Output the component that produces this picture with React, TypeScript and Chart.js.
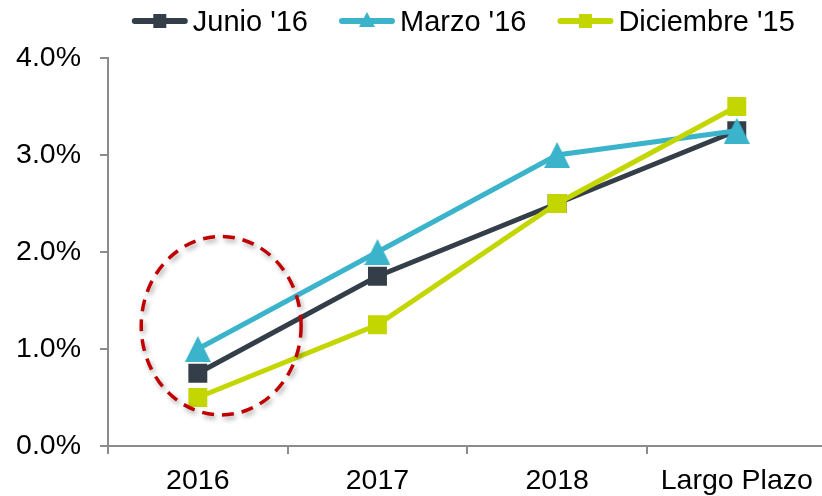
import React, { useEffect, useRef } from "react";
import { Chart, registerables } from "chart.js";

Chart.register(...registerables);

// ---- data ----
const categories = ["2016", "2017", "2018", "Largo Plazo"];
const junio16 = [0.75, 1.75, 2.5, 3.25];
const marzo16 = [1.0, 2.0, 3.0, 3.25];
const diciembre15 = [0.5, 1.25, 2.5, 3.5];
const seriesNames = ["Junio '16", "Marzo '16", "Diciembre '15"];
const seriesColors = ["#343e49", "#3bb3cb", "#c4d600"];
const yMin = 0;
const yMax = 4;
const yStep = 1;
// dashed highlight ellipse, in data units (category index, percent)
const highlight = { x: 0.13, y: 1.24, rx: 0.445, ry: 0.92 };

const FONT = "'Liberation Sans', Arial, Helvetica, sans-serif";
const AXIS_GRAY = "#8c8c8c";

function makeTriangle(w: number, h: number, color: string): HTMLCanvasElement {
  const c = document.createElement("canvas");
  c.width = w;
  c.height = h;
  const g = c.getContext("2d")!;
  g.fillStyle = color;
  g.beginPath();
  g.moveTo(w / 2, 0);
  g.lineTo(w, h);
  g.lineTo(0, h);
  g.closePath();
  g.fill();
  return c;
}

const legendPlugin = {
  id: "topLegend",
  afterDraw(chart: any) {
    const ctx: CanvasRenderingContext2D = chart.ctx;
    const area = chart.chartArea;
    ctx.save();
    ctx.font = `29px ${FONT}`;
    const lineW = 56;
    const gapText = 5;
    const gapItem = 31;
    const widths = seriesNames.map((n) => ctx.measureText(n).width);
    const total =
      widths.reduce((a, w) => a + lineW + gapText + w, 0) +
      gapItem * (seriesNames.length - 1);
    const centerX = (area.left + area.right) / 2 - 4;
    let x = centerX - total / 2;
    const yLine = 21;
    const yText = 31;
    seriesNames.forEach((name, i) => {
      const color = seriesColors[i];
      ctx.strokeStyle = color;
      ctx.lineWidth = 6;
      ctx.lineCap = "round";
      ctx.beginPath();
      ctx.moveTo(x + 3, yLine);
      ctx.lineTo(x + lineW - 3, yLine);
      ctx.stroke();
      ctx.fillStyle = color;
      const mx = x + lineW / 2;
      if (i === 1) {
        ctx.beginPath();
        ctx.moveTo(mx, yLine - 9);
        ctx.lineTo(mx + 8, yLine + 6);
        ctx.lineTo(mx - 8, yLine + 6);
        ctx.closePath();
        ctx.fill();
      } else {
        ctx.fillRect(mx - 6.5, yLine - 7, 13, 14);
      }
      ctx.fillStyle = "#000";
      ctx.textBaseline = "alphabetic";
      ctx.textAlign = "left";
      ctx.fillText(name, x + lineW + gapText, yText);
      x += lineW + gapText + widths[i] + gapItem;
    });
    ctx.restore();
  },
};

const ellipsePlugin = {
  id: "highlightEllipse",
  afterDatasetsDraw(chart: any) {
    const xs = chart.scales.x;
    const ys = chart.scales.y;
    const cx = xs.getPixelForValue(highlight.x);
    const cy = ys.getPixelForValue(highlight.y);
    const rx = Math.abs(xs.getPixelForValue(highlight.x + highlight.rx) - cx);
    const ry = Math.abs(ys.getPixelForValue(highlight.y + highlight.ry) - cy);
    const ctx: CanvasRenderingContext2D = chart.ctx;
    ctx.save();
    ctx.shadowColor = "rgba(0,0,0,0.35)";
    ctx.shadowBlur = 5;
    ctx.shadowOffsetX = 2;
    ctx.shadowOffsetY = 3;
    ctx.strokeStyle = "#c00000";
    ctx.lineWidth = 3.5;
    ctx.setLineDash([12, 8]);
    ctx.beginPath();
    ctx.ellipse(cx, cy, rx, ry, 0, 0, Math.PI * 2);
    ctx.stroke();
    ctx.restore();
  },
};

export default function App() {
  const ref = useRef<HTMLCanvasElement | null>(null);

  useEffect(() => {
    if (!ref.current) return;
    const tri = makeTriangle(26, 26, seriesColors[1]);
    const chart = new Chart(ref.current, {
      type: "line",
      data: {
        labels: categories,
        datasets: [
          {
            label: seriesNames[0],
            data: junio16,
            borderColor: seriesColors[0],
            backgroundColor: seriesColors[0],
            borderWidth: 5,
            pointStyle: "rect",
            pointRadius: 13.4,
            pointBorderWidth: 0,
            tension: 0,
            order: 3,
          },
          {
            label: seriesNames[1],
            data: marzo16,
            borderColor: seriesColors[1],
            backgroundColor: seriesColors[1],
            borderWidth: 5,
            pointStyle: tri as any,
            pointRadius: 13,
            pointBorderWidth: 0,
            tension: 0,
            order: 2,
          },
          {
            label: seriesNames[2],
            data: diciembre15,
            borderColor: seriesColors[2],
            backgroundColor: seriesColors[2],
            borderWidth: 5,
            pointStyle: "rect",
            pointRadius: 13.4,
            pointBorderWidth: 0,
            tension: 0,
            order: 1,
          },
        ],
      },
      options: {
        responsive: false,
        animation: false,
        devicePixelRatio: 1,
        layout: { padding: { top: 58, left: 16, right: 10, bottom: 0 } },
        plugins: {
          legend: { display: false },
          tooltip: { enabled: false },
        },
        scales: {
          x: {
            type: "category",
            offset: true,
            grid: {
              display: true,
              drawOnChartArea: false,
              offset: true,
              tickLength: 8,
              color: AXIS_GRAY,
              lineWidth: 2,
            },
            border: { color: AXIS_GRAY, width: 2 },
            ticks: {
              font: { family: FONT, size: 28.5 },
              color: "#000",
              padding: 10,
              maxRotation: 0,
              autoSkip: false,
            },
            afterFit: (s: any) => {
              s.height = 50;
            },
          },
          y: {
            min: yMin,
            max: yMax,
            grid: {
              display: true,
              drawOnChartArea: false,
              tickLength: 8,
              color: AXIS_GRAY,
              lineWidth: 2,
            },
            border: { color: AXIS_GRAY, width: 2 },
            ticks: {
              stepSize: yStep,
              font: { family: FONT, size: 28.5 },
              color: "#000",
              padding: 19,
              callback: (v: any) => Number(v).toFixed(1) + "%",
            },
            afterFit: (s: any) => {
              s.width = 92;
            },
          },
        },
      },
      plugins: [ellipsePlugin, legendPlugin],
    });
    return () => chart.destroy();
  }, []);

  return (
    <div
      style={{
        position: "fixed",
        left: 0,
        top: 0,
        width: 822,
        height: 496,
        overflow: "hidden",
        background: "#fff",
      }}
    >
      <canvas
        ref={ref}
        width={840}
        height={496}
        style={{ display: "block", width: 840, height: 496 }}
      />
    </div>
  );
}
